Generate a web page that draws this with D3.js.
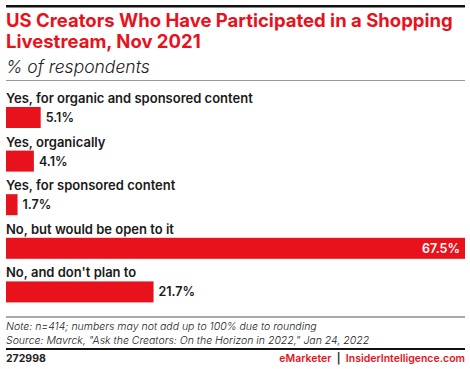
<!DOCTYPE html>
<html>
<head>
<meta charset="utf-8">
<script src="https://cdn.jsdelivr.net/npm/d3@7"></script>
<style>
  body { margin: 0; background: #fff; }
  svg { display: block; font-family: "Inter", "Liberation Sans", Arial, sans-serif; }
</style>
</head>
<body>
<svg id="chart" width="470" height="369"></svg>
<script>
const categories = [
    "Yes, for organic and sponsored content",
    "Yes, organically",
    "Yes, for sponsored content",
    "No, but would be open to it",
    "No, and don't plan to"
];
const values = [5.1, 4.1, 1.7, 67.5, 21.7];
const titleLines = ["US Creators Who Have Participated in a Shopping", "Livestream, Nov 2021"];
const subtitle = "% of respondents";
const notes = [
    "Note: n=414; numbers may not add up to 100% due to rounding",
    "Source: Mavrck, \"Ask the Creators: On the Horizon in 2022,\" Jan 24, 2022"
];

const svg = d3.select("#chart");
const red = "#e8121d";
const left = 6, right = 465;

// top rule
svg.append("rect").attr("x", left).attr("y", 5).attr("width", right - left).attr("height", 2.5).attr("fill", "#111");

svg.selectAll("text.title")
    .data(titleLines)
    .enter().append("text")
    .attr("class", "title")
    .attr("x", left)
    .attr("y", (d, i) => 27 + i * 21)
    .attr("fill", red)
    .attr("font-size", 18.5)
    .attr("font-weight", 700)
    .text(d => d);

svg.append("text")
    .attr("x", left).attr("y", 73)
    .attr("font-size", 17.5).attr("font-style", "italic").attr("font-weight", 300).attr("fill", "#222")
    .text(subtitle);

svg.append("rect").attr("x", left).attr("y", 80).attr("width", right - left).attr("height", 1).attr("fill", "#999");

// bars
const x = d3.scaleLinear().domain([0, 67.5]).range([left, right]);
const y = d3.scaleBand().domain(categories).range([92, 310]).paddingInner(0).paddingOuter(0);
const barTop = d => y(d) + 15;
const barH = 21;

const rows = svg.selectAll("g.row")
    .data(categories.map((c, i) => ({ c: c, v: values[i] })))
    .enter().append("g").attr("class", "row");

rows.append("text")
    .attr("x", left)
    .attr("y", d => barTop(d.c) - 4)
    .attr("font-size", 13)
    .attr("font-weight", 600)
    .attr("fill", "#1a1a1a")
    .text(d => d.c);

rows.append("rect")
    .attr("x", x(0))
    .attr("y", d => barTop(d.c))
    .attr("width", d => x(d.v) - x(0))
    .attr("height", barH)
    .attr("fill", red);

rows.append("text")
    .attr("x", d => d.v > 50 ? x(d.v) - 5 : x(d.v) + 5)
    .attr("y", d => barTop(d.c) + barH / 2 + 4.5)
    .attr("text-anchor", d => d.v > 50 ? "end" : "start")
    .attr("font-size", 12.5)
    .attr("font-weight", 600)
    .attr("fill", d => d.v > 50 ? "#fff" : "#1a1a1a")
    .text(d => d.v.toFixed(1) + "%");

// footer
svg.append("rect").attr("x", left).attr("y", 316.5).attr("width", right - left).attr("height", 1).attr("fill", "#555");

svg.selectAll("text.note")
    .data(notes)
    .enter().append("text")
    .attr("class", "note")
    .attr("x", left)
    .attr("y", (d, i) => 330 + i * 14)
    .attr("font-size", 10.5)
    .attr("font-style", "italic")
    .attr("font-weight", 300)
    .attr("fill", "#222")
    .text(d => d);

svg.append("rect").attr("x", left).attr("y", 348).attr("width", right - left).attr("height", 2).attr("fill", "#111");

svg.append("text")
    .attr("x", left).attr("y", 362)
    .attr("font-size", 10.5).attr("font-weight", 700).attr("fill", "#222")
    .text("272998");

const credit = svg.append("text")
    .attr("x", right).attr("y", 362)
    .attr("text-anchor", "end")
    .attr("font-size", 10.5).attr("font-weight", 600)
    .attr("xml:space", "preserve");
credit.append("tspan").attr("fill", red).text("eMarketer");
credit.append("tspan").attr("fill", "#222").text("  |  ");
credit.append("tspan").attr("fill", red).text("InsiderIntelligence.com");
</script>
</body>
</html>
